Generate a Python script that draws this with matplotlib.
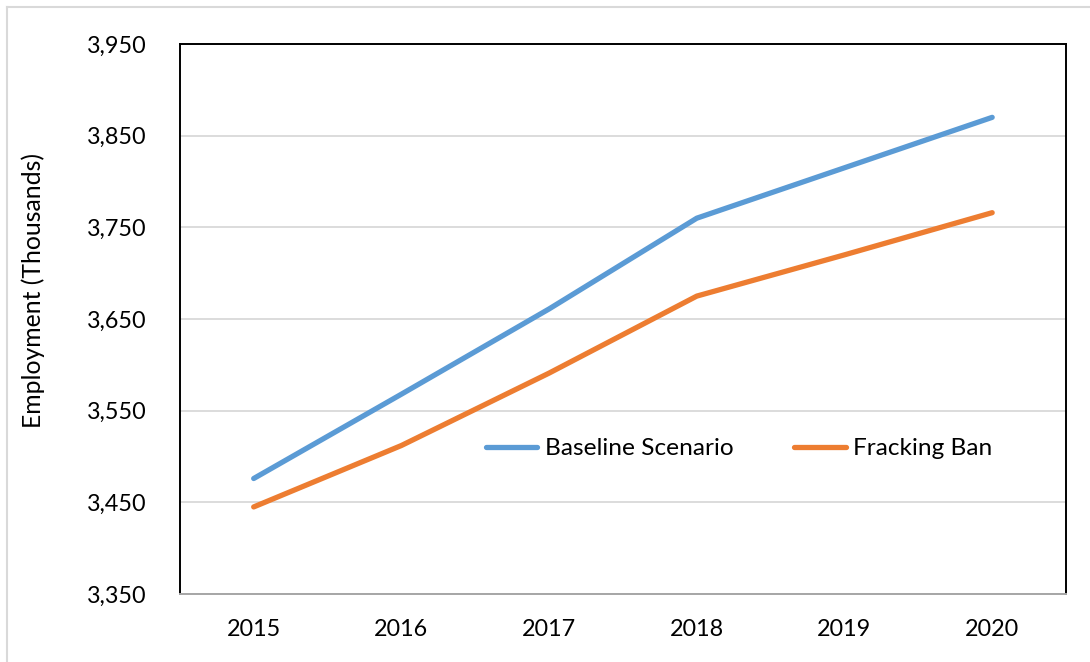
import matplotlib.pyplot as plt
from matplotlib.lines import Line2D

years = ["2015", "2016", "2017", "2018", "2019", "2020"]
baseline = [3476, 3568, 3661, 3760, 3815, 3870]
fracking_ban = [3445, 3512, 3591, 3675, 3720, 3766]
y_ticks = [3350, 3450, 3550, 3650, 3750, 3850, 3950]

plt.rcParams['font.family'] = ['Lato', 'DejaVu Sans']

fig = plt.figure(figsize=(10.9, 6.62), dpi=100)
ax = fig.add_axes([0.165, 0.1027, 0.813, 0.8308])

x = range(len(years))
ax.plot(x, baseline, color="#5B9BD5", lw=3.8, solid_capstyle="round",
        solid_joinstyle="round", label="Baseline Scenario", zorder=3)
ax.plot(x, fracking_ban, color="#ED7D31", lw=3.8, solid_capstyle="round",
        solid_joinstyle="round", label="Fracking Ban", zorder=3)

ax.set_xlim(-0.5, len(years) - 0.5)
ax.set_ylim(y_ticks[0], y_ticks[-1])
ax.set_xticks(list(x))
ax.set_xticklabels(years)
ax.set_yticks(y_ticks)
ax.set_yticklabels([f"{v:,}" for v in y_ticks])
ax.tick_params(length=0, labelsize=16.8, colors="#000000")
ax.tick_params(axis="y", pad=24)
ax.tick_params(axis="x", pad=18)
ax.grid(axis="y", color="#D9D9D9", lw=1.3, zorder=0)
ax.set_axisbelow(True)

for side in ["top", "left", "right"]:
    ax.spines[side].set_color("black")
    ax.spines[side].set_linewidth(1.4)
ax.spines["bottom"].set_color("#A6A6A6")
ax.spines["bottom"].set_linewidth(1.4)

fig.text(33 / 1090, 1 - 290 / 662, "Employment (Thousands)", rotation=90,
         ha="center", va="center", fontsize=17.8)

ax.legend(loc="center", bbox_to_anchor=(0.631, 0.264), ncol=2, frameon=False,
          fontsize=17.6, handlelength=2.1, handletextpad=0.3, columnspacing=2.5)

# light outer frame of the chart area
fig.add_artist(Line2D([7 / 1090, 7 / 1090], [0, 1 - 7 / 662], color="#D9D9D9", lw=1.5))
fig.add_artist(Line2D([7 / 1090, 1], [1 - 7 / 662, 1 - 7 / 662], color="#D9D9D9", lw=1.5))

fig.savefig("out.png", dpi=100)
